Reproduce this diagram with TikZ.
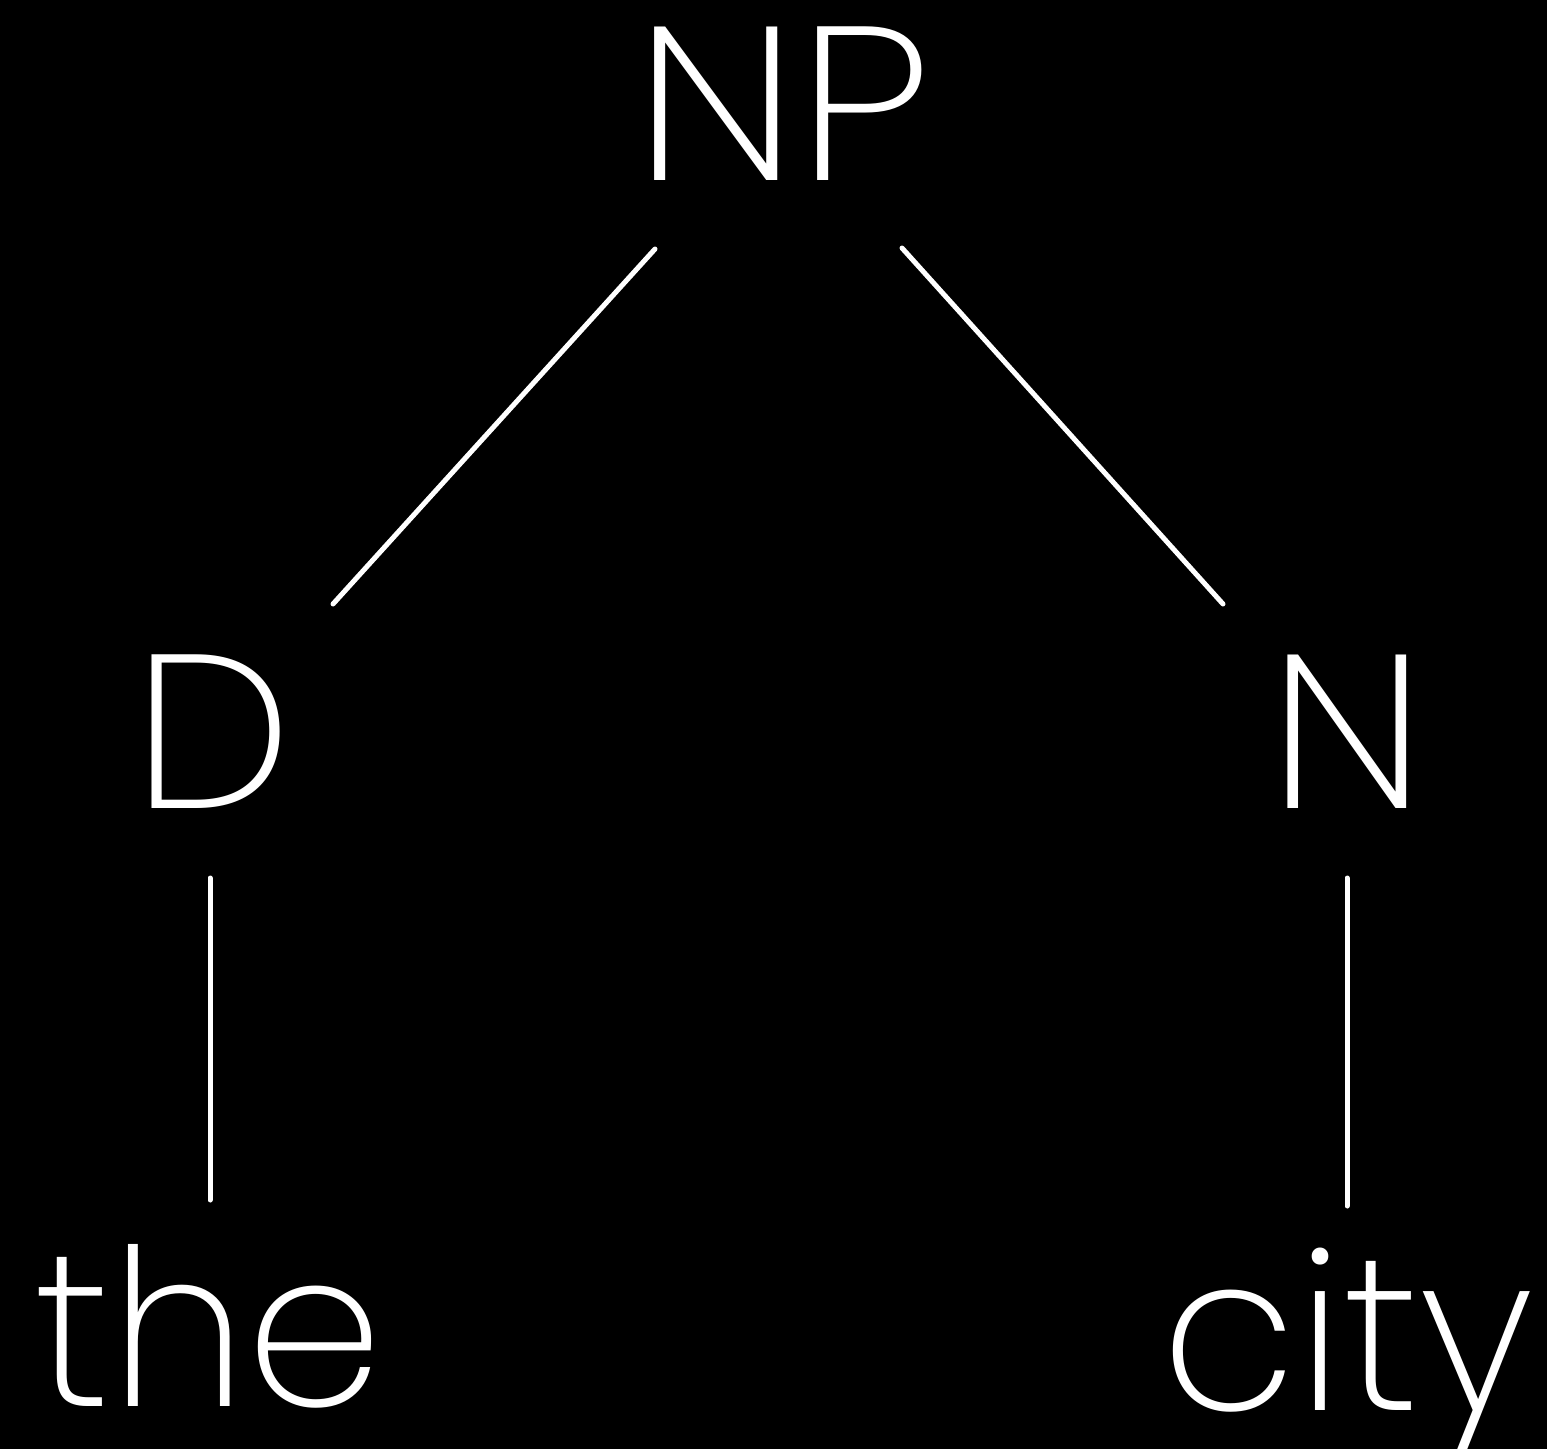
\documentclass[tikz,border=0pt]{standalone}
\usepackage{fontspec}
\setmainfont{Poppins ExtraLight}
\begin{document}
\begin{tikzpicture}[x=1pt,y=-1pt,
  lbl/.style={text=white,inner sep=0pt,anchor=base,font=\fontsize{219}{219}\selectfont},
  edge/.style={draw=white,line width=5pt,line cap=round}]
\useasboundingbox (0,0) rectangle (1547,1449);
\fill[black] (0,0) rectangle (1547,1449);
\node[lbl,xscale=1.12] (np) at (783,180) {NP};
\node[lbl,xscale=1.03] (d) at (213,808) {D};
\node[lbl,xscale=1.08] (n) at (1347,808) {N};
\node[lbl] (the) at (209,1406) {the};
\node[lbl] (city) at (1348,1410) {city};
\coordinate (npl) at (655,249);
\coordinate (npr) at (902,248);
\coordinate (dt) at (333,604);
\coordinate (nt) at (1223,604);
\coordinate (db) at (210,878);
\coordinate (thet) at (210,1200);
\coordinate (nb) at (1347,878);
\coordinate (cityt) at (1347,1206);
\draw[edge] (npl) -- (dt);
\draw[edge] (npr) -- (nt);
\draw[edge] (db) -- (thet);
\draw[edge] (nb) -- (cityt);
\end{tikzpicture}
\end{document}
